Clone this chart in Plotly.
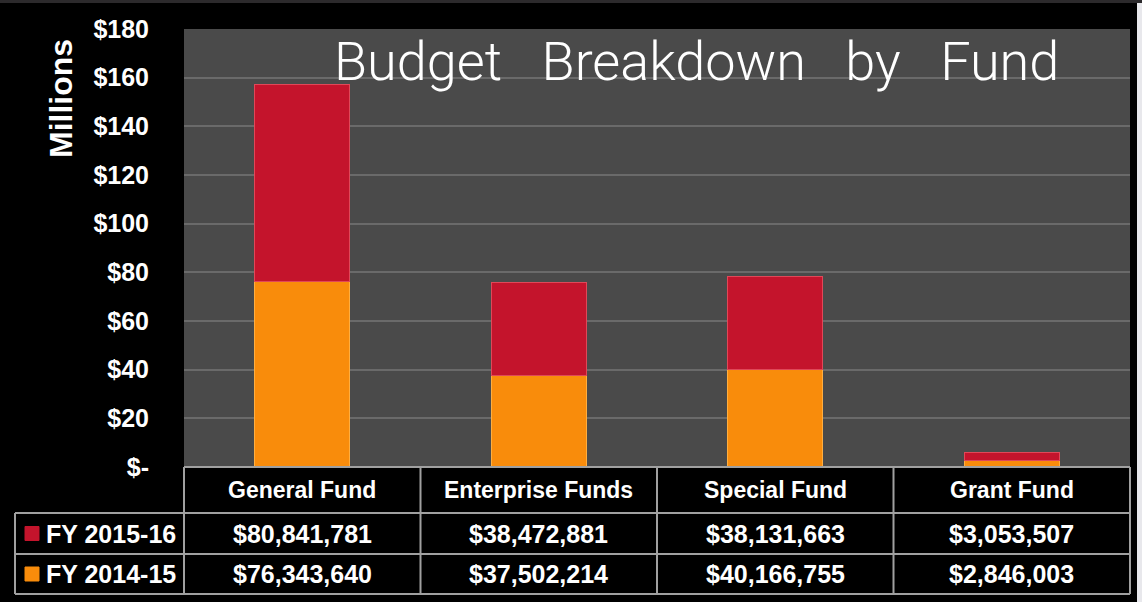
import plotly.graph_objects as go

# ---- data ----
categories = ["General Fund", "Enterprise Funds", "Special Fund", "Grant Fund"]
fy_2015_16 = [80841781, 38472881, 38131663, 3053507]
fy_2014_15 = [76343640, 37502214, 40166755, 2846003]
series_names = ["FY 2015-16", "FY 2014-15"]
y_ticks = [0, 20, 40, 60, 80, 100, 120, 140, 160, 180]
y_tick_labels = ["$-", "$20", "$40", "$60", "$80", "$100", "$120", "$140", "$160", "$180"]
title_text = "Budget   Breakdown   by   Fund"
y_title = "Millions"

# ---- styles ----
W, H = 1142, 602
L, R, T, B = 184, 12, 29, 135
PW, PH = W - L - R, H - T - B
RED = "#c4142c"
ORANGE = "#f98c0b"
GRID = "#6a6a6a"
TABLE_LINE = "#a0a0a0"
PLOT_BG = "#4a4a4a"
FONT = "Liberation Sans"


def px_x(p):
    return (p - L) / PW


def px_y(p):
    return (H - B - p) / PH


fig = go.Figure()
fig.add_trace(go.Bar(
    x=categories, y=[v / 1e6 for v in fy_2014_15], name=series_names[1],
    marker=dict(color=ORANGE, line=dict(color="#ffae40", width=1)), width=0.4,
))
fig.add_trace(go.Bar(
    x=categories, y=[v / 1e6 for v in fy_2015_16], name=series_names[0],
    marker=dict(color=RED, line=dict(color="#e04858", width=1)), width=0.4,
))

shapes = []
# decorative edges
shapes.append(dict(type="rect", xref="paper", yref="paper", x0=px_x(0), x1=px_x(W), y0=px_y(3), y1=px_y(0),
                   fillcolor="#2c2a2c", line=dict(width=0), layer="below"))
shapes.append(dict(type="rect", xref="paper", yref="paper", x0=px_x(1137), x1=px_x(W), y0=px_y(H), y1=px_y(3),
                   fillcolor="#e8e8ec", line=dict(width=0)))

# table lines
row_y = [467, 513, 554, 594]
col_x = [184 + i * PW / 4 for i in range(5)]
tl = dict(color=TABLE_LINE, width=2)
shapes.append(dict(type="line", xref="paper", yref="paper", x0=px_x(184), x1=px_x(1130), y0=px_y(467), y1=px_y(467), line=tl))
for yy in row_y[1:]:
    shapes.append(dict(type="line", xref="paper", yref="paper", x0=px_x(15), x1=px_x(1130), y0=px_y(yy), y1=px_y(yy), line=tl))
for xx in col_x:
    shapes.append(dict(type="line", xref="paper", yref="paper", x0=px_x(xx), x1=px_x(xx), y0=px_y(467), y1=px_y(594), line=tl))
shapes.append(dict(type="line", xref="paper", yref="paper", x0=px_x(15), x1=px_x(15), y0=px_y(513), y1=px_y(594), line=tl))

# legend squares
for yy, col in [((513 + 554) / 2, RED), ((554 + 594) / 2, ORANGE)]:
    shapes.append(dict(type="rect", xref="paper", yref="paper", x0=px_x(25), x1=px_x(39), y0=px_y(yy + 7), y1=px_y(yy - 7),
                       fillcolor=col, line=dict(color=col, width=1)))

annotations = []
cell_font = dict(family=FONT, size=25, color="white", weight="bold")
hdr_font = dict(family=FONT, size=23, color="white", weight="bold")
for c in categories:
    annotations.append(dict(x=c, xref="x", y=px_y(490), yref="paper", text=c, showarrow=False,
                            font=hdr_font, xanchor="center", yanchor="middle"))
for vals, yy in [(fy_2015_16, (513 + 554) / 2), (fy_2014_15, (554 + 594) / 2)]:
    for c, v in zip(categories, vals):
        annotations.append(dict(x=c, xref="x", y=px_y(yy), yref="paper", text=f"${v:,}", showarrow=False,
                                font=cell_font, xanchor="center", yanchor="middle"))
for name, yy in [(series_names[0], (513 + 554) / 2), (series_names[1], (554 + 594) / 2)]:
    annotations.append(dict(x=px_x(44), xref="paper", y=px_y(yy), yref="paper", text=name, showarrow=False,
                            font=cell_font, xanchor="left", yanchor="middle"))

# title
annotations.append(dict(x=px_x(696), xref="paper", y=px_y(62), yref="paper",
                        text=title_text.replace(" ", "\u00a0"), showarrow=False,
                        font=dict(family="Roboto", size=54, color="white", weight=300),
                        xanchor="center", yanchor="middle"))
# y title
annotations.append(dict(x=px_x(61), xref="paper", y=px_y(99), yref="paper", text=f"<b>{y_title}</b>",
                        showarrow=False, textangle=-90, font=dict(family=FONT, size=32, color="white"),
                        xanchor="center", yanchor="middle"))

fig.update_layout(
    width=W, height=H,
    margin=dict(l=L, r=R, t=T, b=B),
    paper_bgcolor="black", plot_bgcolor=PLOT_BG,
    barmode="stack", showlegend=False,
    shapes=shapes, annotations=annotations,
    xaxis=dict(showticklabels=False, showgrid=False, zeroline=False, showline=False, ticks=""),
    yaxis=dict(range=[0, 180], tickvals=y_ticks, ticktext=y_tick_labels,
               tickfont=dict(family=FONT, size=25, color="white", weight="bold"),
               showgrid=True, gridcolor=GRID, gridwidth=2, zeroline=False, showline=False,
               ticks="", ticklabelstandoff=34),
)

fig.write_html("out.html", config={"displayModeBar": False},
               post_script="document.body.style.margin='0';document.body.style.background='black';")
